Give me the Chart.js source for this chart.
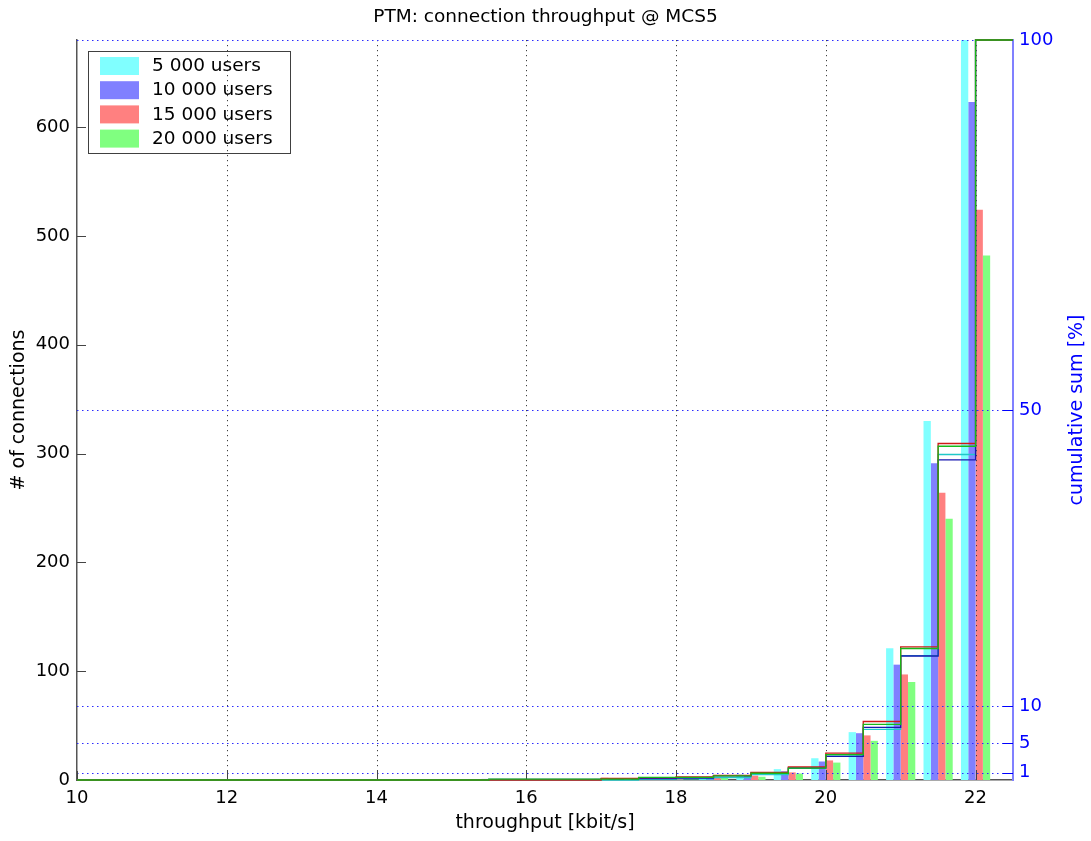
<!DOCTYPE html>
<html><head><meta charset="utf-8">
<script src="https://cdn.jsdelivr.net/npm/chart.js@4.4.1/dist/chart.umd.min.js"></script>
<style>html,body{margin:0;padding:0;background:#fff}#wrap{width:1091px;height:841px}</style>
</head><body><div id="wrap"><canvas id="c" width="1091" height="841"></canvas></div>
<script>
// ---- data ----
const binCenters = [10,10.5,11,11.5,12,12.5,13,13.5,14,14.5,15,15.5,16,16.5,17,17.5,18,18.5,19,19.5,20,20.5,21,21.5,22];
const users5000  = [0,0,0,0,0,0,0,0,0,0,0, 0,0,0,0,1,1,2,5,10,20,44,121,330,680];
const users10000 = [0,0,0,0,0,0,0,0,0,0,0, 1,0,0,1,0,1,3,4,8,17,43,106,291,623];
const users15000 = [0,0,0,0,0,0,0,0,0,0,0, 0,0,0,2,1,1,2,4,7,18,41,97,264,524];
const users20000 = [0,0,0,0,0,0,0,0,0,0,0, 1,0,0,0,2,0,2,3,6,16,36,90,240,482];
const seriesNames = ['5 000 users','10 000 users','15 000 users','20 000 users'];
const xTicks = [10,12,14,16,18,20,22];
const leftTicks = [0,100,200,300,400,500,600];
const rightTicks = [1,5,10,50,100];
const xMin = 10, xMax = 22.5, leftMax = 680, rightMax = 100;
const titleText = 'PTM: connection throughput @ MCS5';
const xTitle = 'throughput [kbit/s]';
const yTitle = '# of connections';
const y2Title = 'cumulative sum [%]';

// ---- styles ----
const barColors  = ['#80ffff','#8080ff','#ff8080','#80ff80'];
const lineColors = ['#20c8c8','#1818b0','#d01818','#18b818'];
const FONT = 'DejaVu Sans';

const allSeries = [users5000, users10000, users15000, users20000];
function cumPercent(a){ const tot=a.reduce((s,v)=>s+v,0); let c=0; return a.map(v=>{c+=v; return c/tot*100;}); }

const datasets = [];
allSeries.forEach((s,i)=>{
  datasets.push({
    type:'bar', label:seriesNames[i],
    data: binCenters.map((x,k)=>({x:x, y:s[k]})),
    backgroundColor: barColors[i], borderWidth:0,
    categoryPercentage:0.78, barPercentage:1.0,
    xAxisID:'x', yAxisID:'y', order:10+i, clip:0
  });
});
allSeries.forEach((s,i)=>{
  const cum = cumPercent(s);
  const pts = binCenters.map((x,k)=>({x:x, y:cum[k]}));
  pts.push({x:xMax, y:cum[cum.length-1]});
  datasets.push({
    type:'line', label:seriesNames[i]+' (cumulative)',
    data: pts, borderColor: lineColors[i], borderWidth:1.3,
    pointRadius:0, stepped:true, fill:false, tension:0,
    xAxisID:'x', yAxisID:'y2', order:3-i, clip:4
  });
});

function line(ctx,x1,y1,x2,y2){ctx.beginPath();ctx.moveTo(x1,y1);ctx.lineTo(x2,y2);ctx.stroke();}

const mlPlugin = {
  id:'ml',
  afterDatasetDraw(chart, args){
    if(args.meta.type!=='bar' || args.index!==0) return;
    const {ctx, chartArea:a, scales} = chart;
    ctx.save();
    ctx.lineWidth = 1;
    ctx.setLineDash([1.2,3.8]);
    ctx.strokeStyle = '#404040';
    xTicks.forEach(v=>{ if(v===xMin) return; const x=Math.round(scales.x.getPixelForValue(v))+0.5; line(ctx,x,a.top,x,a.bottom); });
    ctx.setLineDash([1.5,3.5]);
    ctx.strokeStyle = '#2a2aff';
    rightTicks.forEach(v=>{ const y=Math.round(scales.y2.getPixelForValue(v))+0.5; line(ctx,a.left,y,a.right,y); });
    ctx.setLineDash([]);
    ctx.strokeStyle = '#444';
    xTicks.forEach(v=>{ const x=Math.round(scales.x.getPixelForValue(v))+0.5; line(ctx,x,a.bottom,x,a.bottom-9); });
    leftTicks.forEach(v=>{ const y=Math.round(scales.y.getPixelForValue(v))+0.5; line(ctx,a.left,y,a.left+9,y); });
    ctx.strokeStyle = '#0000ff';
    rightTicks.forEach(v=>{ const y=Math.round(scales.y2.getPixelForValue(v))+0.5; line(ctx,a.right-10,y,a.right,y); });
    ctx.restore();
  },
  afterDraw(chart){
    const ctx = chart.ctx;
    ctx.save();
    // legend
    ctx.strokeStyle = '#404040'; ctx.lineWidth = 1;
    ctx.strokeRect(88.5, 51.5, 202, 102);
    ctx.font = '18.5px "'+FONT+'"';
    ctx.textAlign = 'left'; ctx.textBaseline = 'middle';
    seriesNames.forEach((n,i)=>{
      const yTop = 57 + i*24.2;
      ctx.fillStyle = barColors[i];
      ctx.fillRect(100, yTop, 39, 18);
      ctx.fillStyle = '#000';
      ctx.fillText(n, 152, yTop+9.3);
    });
    // right axis title
    const a = chart.chartArea;
    ctx.translate(1082, (a.top+a.bottom)/2);
    ctx.rotate(-Math.PI/2);
    ctx.font = '19px "'+FONT+'"';
    ctx.fillStyle = '#0000ff';
    ctx.textAlign = 'center'; ctx.textBaseline = 'alphabetic';
    ctx.fillText(y2Title, 0, 0);
    ctx.restore();
  }
};

new Chart(document.getElementById('c'), {
  type:'bar',
  data:{ datasets },
  plugins:[mlPlugin],
  options:{
    responsive:false, animation:false, devicePixelRatio:1,
    layout:{padding:0},
    plugins:{
      legend:{display:false}, tooltip:{enabled:false},
      title:{display:true, text:titleText, color:'#000',
        font:{family:FONT, size:18.5, weight:'normal'}, padding:{top:6.5,bottom:11.3}}
    },
    scales:{
      x:{type:'linear', position:'bottom', min:xMin, max:xMax, offset:false,
        grid:{display:false, drawTicks:false},
        border:{display:true, color:'#555', width:1.5},
        ticks:{color:'#000', font:{family:FONT, size:18}, padding:8, maxRotation:0, autoSkip:false},
        afterBuildTicks:s=>{ s.ticks = xTicks.map(v=>({value:v})); },
        afterFit:s=>{ s.height = 61; },
        title:{display:true, text:xTitle, color:'#000', font:{family:FONT, size:19}, padding:{top:0,bottom:6.5}}
      },
      y:{type:'linear', position:'left', min:0, max:leftMax,
        grid:{display:false, drawTicks:false},
        border:{display:true, color:'#555', width:1.5},
        ticks:{color:'#000', font:{family:FONT, size:18}, padding:7},
        afterBuildTicks:s=>{ s.ticks = leftTicks.map(v=>({value:v})); },
        afterFit:s=>{ s.width = 77; },
        title:{display:true, text:yTitle, color:'#000', font:{family:FONT, size:19}, padding:{top:8,bottom:0}}
      },
      y2:{type:'linear', position:'right', min:0, max:rightMax,
        grid:{display:false, drawTicks:false},
        border:{display:true, color:'#8080ff', width:2},
        ticks:{color:'#0000ff', font:{family:FONT, size:18}, padding:6},
        afterBuildTicks:s=>{ s.ticks = rightTicks.map(v=>({value:v})); },
        afterFit:s=>{ s.width = 78; },
        title:{display:false}
      }
    }
  }
});
</script></body></html>
